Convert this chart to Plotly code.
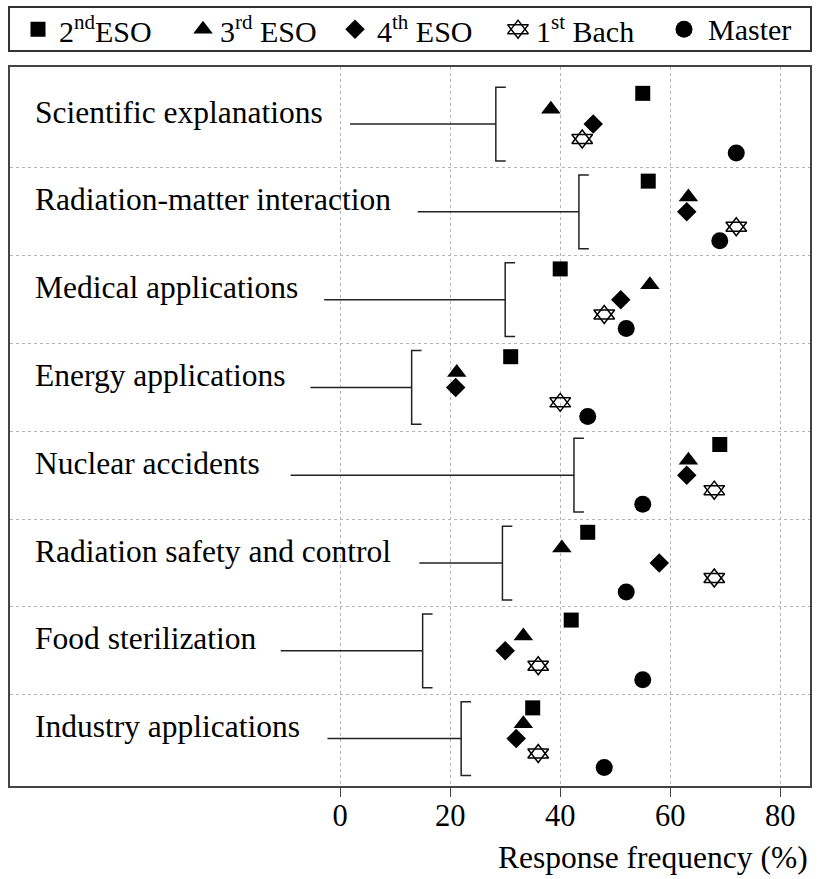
import plotly.graph_objects as go

#$ Data, topics listed top to bottom
topics = ['Scientific explanations', 'Radiation-matter interaction', 'Medical applications',
          'Energy applications', 'Nuclear accidents', 'Radiation safety and control',
          'Food sterilization', 'Industry applications']
eso2 = [55, 56, 40, 31, 69, 45, 42, 35]
eso3 = [38.3, 63.3, 56.3, 21.2, 63.3, 40.3, 33.3, 33.3]
eso4 = [46, 63, 51, 21, 63, 58, 30, 32]
bach1 = [44, 72, 48, 40, 68, 68, 36, 36]
master = [72, 69, 52, 45, 55, 52, 55, 48]
bracket = [28.3, 43.4, 30, 13, 42.5, 29.5, 15, 22]

#@ Layout helpers
line_start = [1.8, 14.1, -2.9, -5.4, -9.0, 14.4, -10.8, -2.3]   # connector starts after label text
FONT = 'Liberation Serif, Times New Roman, serif'
rows = list(range(len(topics)))
H_PLOT = 879 - 93

# name, values, symbols, size, vertical offset, legend marker x, legend text x
series = [
    ('2<sup>nd</sup>ESO', eso2, ['square'], 15, -0.35, 28, 47),
    ('3<sup>rd</sup> ESO', eso3, ['triangle-up'], 17, -0.17, 193, 208),
    ('4<sup>th</sup> ESO', eso4, ['diamond'], 15, 0.0, 345, 365),
    ('1<sup>st</sup> Bach', bach1, ['triangle-up-open', 'triangle-down-open'], 18, 0.17, 508, 524),
    ('Master', master, ['circle'], 17, 0.33, 674, 696),
]

fig = go.Figure()

#$ Connector lines and brackets
bx, by = [], []
for r in rows:
    b = bracket[r]
    bx += [line_start[r], b, None, b + 1.8, b, b, b + 1.8, None]
    by += [r, r, None, r - 0.42, r - 0.42, r + 0.42, r + 0.42, None]
fig.add_trace(go.Scatter(x=bx, y=by, mode='lines', line=dict(color='#222', width=1.5),
                         showlegend=False, hoverinfo='skip'))

#$ Markers per group, plus a hand-made legend on its own axes
for name, vals, syms, size, off, lx, tx in series:
    for sym in syms:
        mk = dict(symbol=sym, size=size, color='black',
                  line=dict(color='black', width=1.5 if 'open' in sym else 0))
        fig.add_trace(go.Scatter(x=vals, y=[r + off for r in rows], mode='markers',
                                 marker=mk, showlegend=False, name=name))
        fig.add_trace(go.Scatter(x=[lx], y=[0.5], mode='markers', marker=mk, showlegend=False,
                                 xaxis='x2', yaxis='y2', hoverinfo='skip'))
    fig.add_annotation(x=tx, y=0.5, xref='x2', yref='y2', text=name, showarrow=False,
                       xanchor='left', yanchor='middle', font=dict(family=FONT, size=30))

#@ Topic labels inside the plot
for r, t in zip(rows, topics):
    fig.add_annotation(x=-55.8, y=r, text=t, showarrow=False, xanchor='left', yanchor='middle',
                       yshift=12, font=dict(family=FONT, size=31.5, color='black'))

fig.add_annotation(x=1, y=-71 / H_PLOT, xref='paper', yref='paper',
                   text='Response frequency (%)', showarrow=False, xanchor='right',
                   yanchor='middle', font=dict(family=FONT, size=31.5, color='black'))

fig.update_layout(
    width=818, height=879, margin=dict(l=10, r=8, t=0, b=93),
    plot_bgcolor='white', paper_bgcolor='white', showlegend=False,
    font=dict(family=FONT, size=31, color='black'),
    xaxis=dict(range=[-60, 85.4], tickvals=[0, 20, 40, 60, 80], ticks='outside', ticklen=9,
               tickcolor='#444', showline=True, mirror=True, linecolor='#444', linewidth=1.5,
               showgrid=True, gridcolor='#b5b5b5', griddash='dot', gridwidth=1, zeroline=False,
               ticklabelstandoff=-7, tickfont=dict(family=FONT, size=30.5)),
    yaxis=dict(domain=[0, 719 / H_PLOT], range=[7.54, -0.65],
               tickvals=[r + 0.5 for r in rows[:-1]], showticklabels=False, ticks='',
               showline=True, mirror=True, linecolor='#444', linewidth=1.5,
               showgrid=True, gridcolor='#b5b5b5', griddash='dot', gridwidth=1, zeroline=False),
    xaxis2=dict(domain=[0, 1], anchor='y2', range=[0, 800], showline=True, mirror=True,
                linecolor='#333', linewidth=1.5, showgrid=False, zeroline=False,
                showticklabels=False, ticks=''),
    yaxis2=dict(domain=[(H_PLOT - 50) / H_PLOT, (H_PLOT - 8.3) / H_PLOT], anchor='x2',
                range=[0, 1], showline=True, mirror=True, linecolor='#333', linewidth=1.5,
                showgrid=False, zeroline=False, showticklabels=False, ticks=''),
)

fig.write_html('out.html', config={'displayModeBar': False},
               post_script="document.body.style.margin='0';")
